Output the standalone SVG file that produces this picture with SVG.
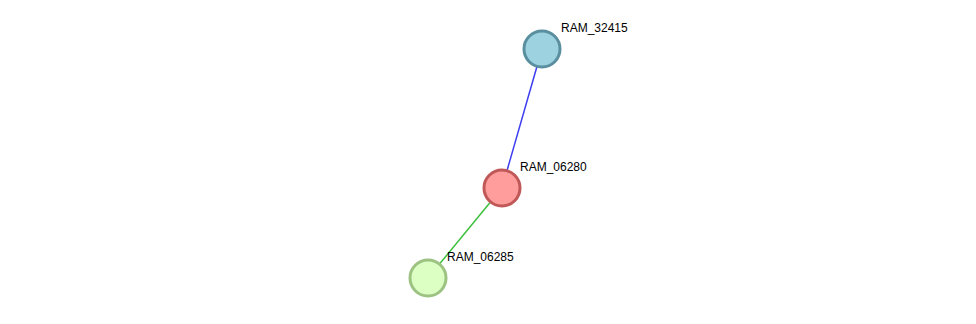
<svg xmlns="http://www.w3.org/2000/svg" width="976" height="324" viewBox="0 0 976 324">
<style>
.n{stroke-width:3}
.l{font-family:"Liberation Sans",Arial,sans-serif;font-size:12px;fill:#000}
.e{stroke-width:1.5;fill:none}
</style>
<rect width="976" height="324" fill="#fff"/>
<g id="edges">
<line class="e" x1="542" y1="49" x2="502" y2="188" stroke="#3c3cf0"/>
<line class="e" x1="502" y1="188" x2="428" y2="278" stroke="#3cc03c"/>
</g>
<g id="RAM_32415">
<circle class="n" cx="542" cy="49" r="18" fill="#9dd3e0" stroke="#5a8fa0"/>
<text class="l" x="561" y="32">RAM_32415</text>
</g>
<g id="RAM_06280">
<circle class="n" cx="502" cy="188" r="18" fill="#ff9c9c" stroke="#c05858"/>
<text class="l" x="520" y="171">RAM_06280</text>
</g>
<g id="RAM_06285">
<circle class="n" cx="428" cy="278" r="18" fill="#dcffc4" stroke="#9dc383"/>
<text class="l" x="447" y="261">RAM_06285</text>
</g>
</svg>
